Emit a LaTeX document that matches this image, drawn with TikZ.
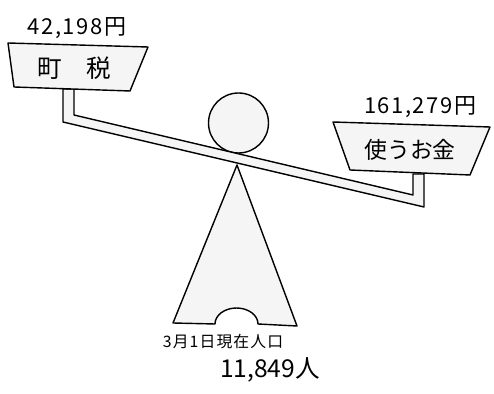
\documentclass[tikz,border=0pt]{standalone}
\usepackage{fontspec}
\newfontfamily\jp{Noto Sans CJK JP}
\newfontfamily\jpwide{Noto Sans CJK JP}[LetterSpace=7]
\usepackage{tikz}
\usetikzlibrary{positioning}

\tikzset{
  part/.style={draw, line width=0.8pt, fill=black!4, line join=round},
  label/.style={font=\jp, inner sep=0pt},
}

\begin{document}
\begin{tikzpicture}[x=0.02cm, y=-0.02cm]
        \useasboundingbox (0,0) rectangle (494,394);

        % Body and head
        \draw[part] (237,165) -- (297,326) -- (258,324)
              arc[start angle=0, end angle=-180, x radius=21.5, y radius=16]
              -- (173,323) -- cycle;
        \draw[part] (238.5,123) circle[radius=30];

        % Beam with the two posts
        \draw[part] (63,89) -- (63,122) -- (424,207) -- (424,174)
              -- (413,174) -- (413,195) -- (74,115) -- (74,89) -- cycle;

        % Left pan
        \draw[part] (8,43) -- (148,47) -- (130,91) -- (14,87) -- cycle;
        \node[label, font=\jp\fontsize{14}{14}\selectfont] (tax) at (74,68) {町\hspace{1.0em}税};
        \node[label, font=\jpwide\fontsize{12.5}{12.5}\selectfont] (taxval) at (77,28) {42,198円};

        % Right pan
        \draw[part] (333,122) -- (490,127) -- (470,175) -- (350,170) -- cycle;
        \node[label, font=\jp\fontsize{13}{13}\selectfont] (spend) at (410,150) {使うお金};
        \node[label, font=\jpwide\fontsize{12.5}{12.5}\selectfont] (spendval) at (420,107) {161,279円};

        % Population
        \node[label, font=\jpwide\fontsize{9}{9}\selectfont] (popnote) at (223,342) {3月1日現在人口};
        \node[label, font=\jp\fontsize{14}{14}\selectfont] (pop) at (270,370) {11,849人};
\end{tikzpicture}
\end{document}
